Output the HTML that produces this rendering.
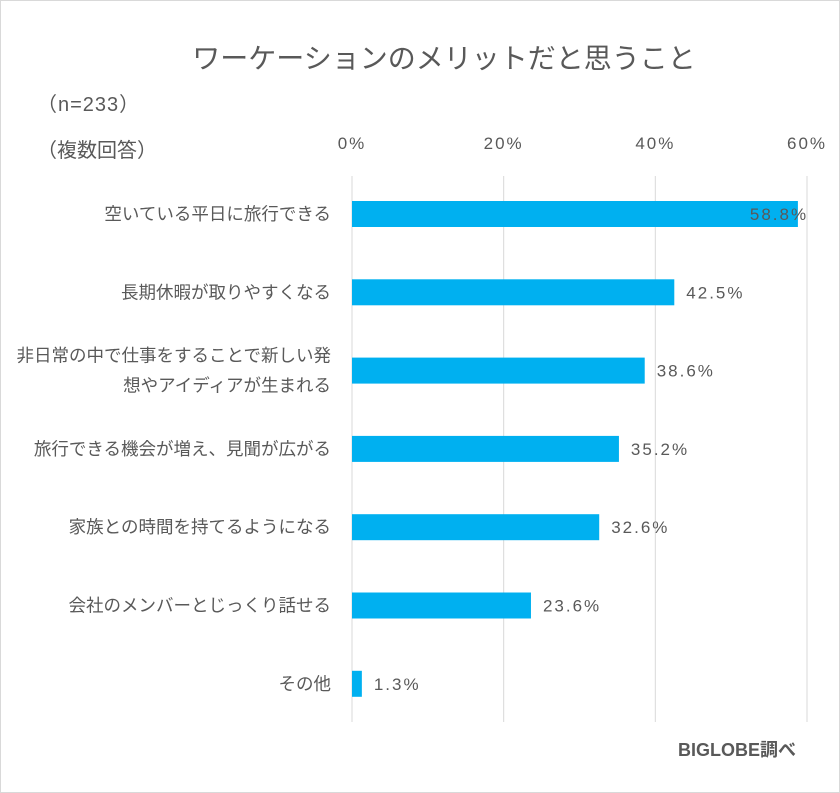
<!DOCTYPE html>
<html><head><meta charset="utf-8">
<style>
body{margin:0;background:#fff;}
#wrap{position:relative;width:838px;height:791px;border:1px solid #d9d9d9;overflow:hidden;}
text{font-family:"Liberation Sans","Noto Sans CJK JP",sans-serif;fill:#595959;}
</style></head><body>
<div id="wrap">
<svg id="chart" width="838" height="791">
<text x="443" y="67" font-size="28" text-anchor="middle">ワーケーションのメリットだと思うこと</text>
<text x="36" y="110" font-size="20" letter-spacing="1">（n=233）</text>
<text x="36" y="156" font-size="20">（複数回答）</text>
<text x="795" y="755" font-size="18" font-weight="bold" text-anchor="end">BIGLOBE調べ</text>
<g id="grid"></g><g id="bars"></g>
</svg>
</div>
<script>
const categories=[["空いている平日に旅行できる"],["長期休暇が取りやすくなる"],["非日常の中で仕事をすることで新しい発","想やアイディアが生まれる"],["旅行できる機会が増え、見聞が広がる"],["家族との時間を持てるようになる"],["会社のメンバーとじっくり話せる"],["その他"]];
const values=[58.8,42.5,38.6,35.2,32.6,23.6,1.3];
const tickValues=[0,20,40,60];
const tickLabels=["0%","20%","40%","60%"];
const NS="http://www.w3.org/2000/svg";
const x0=351,x1=806,xmax=60,yTop=175,yBottom=721;
const xs=v=>x0+(x1-x0)*v/xmax;
const yc=i=>213+i*78.3;
function mk(t,a,p){const e=document.createElementNS(NS,t);for(const k in a)e.setAttribute(k,a[k]);p.appendChild(e);return e;}
const grid=document.getElementById('grid'),bars=document.getElementById('bars');
tickValues.forEach((v,i)=>{
 const l=mk('line',{x1:xs(v),x2:xs(v),y1:yTop,y2:yBottom,stroke:'#d9d9d9','stroke-width':1},grid);
 
 
 const t=mk('text',{x:xs(v),y:148,'font-size':17,'letter-spacing':2,'text-anchor':'middle'},grid);
 t.textContent=tickLabels[i];
 
 
});
values.forEach((v,i)=>{
 const y=yc(i);
 const r=mk('rect',{x:xs(0),y:y-13,width:xs(v)-xs(0),height:26,fill:'#00b0f0'},bars);
 
 
 const lab=mk('text',{x:xs(v)+(v>55?-48:12),y:y+6,'font-size':17,'letter-spacing':2},bars);
 lab.textContent=v.toFixed(1)+'%';
 
 
 const lines=categories[i];
 lines.forEach((s,j)=>{
  const t=mk('text',{x:330,y:y+6+(j-(lines.length-1)/2)*30,'font-size':17.5,'text-anchor':'end'},bars);
  t.textContent=s;
  
  
 });
});
</script>
</body></html>
